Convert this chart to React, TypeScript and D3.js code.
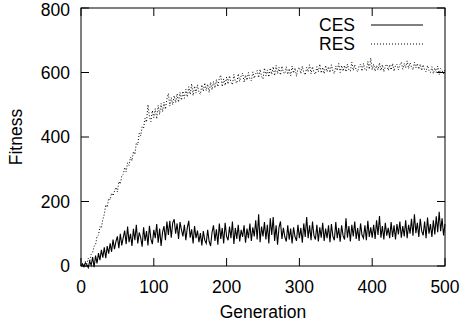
import React from "react";
import * as d3 from "d3";

const xTicks = [0, 100, 200, 300, 400, 500];
const yTicks = [0, 200, 400, 600, 800];
const seriesNames = ["CES", "RES"];
const genStep = 2;

const cesValues = [
  0, 6, -2, 10, 4, -5, 15, 2, 28, -4, 32,
  8, 40, 18, 50, 26, 58, 24, 62, 38, 70,
  44, 82, 52, 76, 92, 55, 100, 64, 88, 110,
  68, 122, 74, 100, 62, 115, 80, 128, 70, 104,
  88, 60, 120, 78, 108, 64, 125, 84, 68, 112,
  86, 130, 72, 116, 62, 104, 124, 80, 138, 96,
  140, 88, 134, 145, 100, 132, 84, 136, 112, 92,
  128, 80, 118, 140, 88, 114, 70, 124, 86, 110,
  74, 102, 64, 108, 80, 70, 112, 76, 62, 104,
  126, 78, 114, 66, 132, 84, 118, 70, 134, 92,
  80, 122, 86, 138, 68, 118, 84, 128, 76, 112,
  90, 126, 72, 116, 86, 132, 78, 120, 92, 142,
  82, 160, 74, 122, 92, 136, 82, 128, 70, 148,
  96, 152, 78, 126, 66, 120, 138, 84, 118, 90,
  76, 126, 82, 116, 70, 120, 90, 78, 128, 86,
  118, 72, 132, 90, 152, 86, 126, 80, 138, 94,
  82, 128, 76, 120, 88, 134, 78, 116, 86, 126,
  74, 130, 92, 80, 136, 86, 118, 75, 126, 94,
  82, 148, 88, 124, 76, 128, 92, 138, 84, 118,
  78, 132, 96, 86, 126, 80, 140, 90, 120, 88,
  128, 84, 142, 96, 155, 88, 124, 82, 134, 94,
  118, 86, 136, 90, 126, 82, 130, 98, 138, 88,
  124, 92, 142, 86, 128, 100, 146, 94, 160, 102,
  134, 90, 146, 108, 95, 138, 86, 150, 100, 130,
  90, 142, 98, 154, 105, 168, 108, 148, 95, 130,
];

const resValues = [
  0, 8, 2, 14, 6, 24, 12, 36, 42, 62, 66,
  92, 96, 122, 118, 145, 160, 190, 182, 210, 205,
  226, 218, 232, 244, 230, 262, 254, 280, 284, 306,
  292, 320, 312, 338, 326, 355, 346, 382, 376, 412,
  404, 432, 428, 458, 446, 500, 462, 448, 482, 460,
  488, 456, 498, 470, 504, 478, 508, 486, 518, 535,
  496, 522, 500, 528, 506, 534, 508, 538, 514, 542,
  520, 548, 524, 556, 532, 565, 528, 558, 536, 562,
  538, 532, 562, 542, 568, 544, 564, 538, 570, 546,
  572, 552, 578, 556, 582, 592, 556, 580, 560, 586,
  564, 590, 570, 562, 594, 572, 566, 596, 572, 590,
  598, 570, 592, 576, 600, 580, 574, 602, 582, 596,
  606, 584, 610, 588, 580, 614, 590, 608, 586, 614,
  594, 618, 590, 622, 596, 616, 592, 620, 600, 596,
  618, 594, 612, 590, 620, 598, 614, 588, 612, 616,
  596, 620, 600, 592, 616, 602, 624, 596, 618, 600,
  594, 618, 602, 626, 598, 616, 596, 622, 602, 618,
  600, 624, 604, 596, 620, 606, 628, 600, 622, 604,
  622, 602, 626, 608, 604, 632, 606, 624, 608, 602,
  620, 626, 604, 628, 610, 606, 634, 610, 645, 608,
  626, 604, 622, 608, 630, 606, 624, 602, 620, 626,
  606, 624, 608, 628, 604, 622, 626, 608, 624, 632,
  610, 628, 614, 636, 612, 630, 616, 608, 632, 614,
  628, 610, 626, 606, 624, 608, 602, 622, 606, 600,
  618, 596, 614, 600, 620, 594, 612, 606, 596, 608,
];

const W = 461;
const H = 331;
const left = 81;
const right = 445;
const top = 8;
const bottom = 266;
const tickLen = 8;
const font = "'Liberation Sans', Arial, Helvetica, sans-serif";
const fs = 17.5;

export default function App() {
  const x = d3.scaleLinear().domain([0, 500]).range([left, right]);
  const y = d3.scaleLinear().domain([0, 800]).range([bottom, top]);
  const line = d3
    .line<number>()
    .x((_, i) => x(i * genStep))
    .y((d) => y(d));

  const legendY = [25, 44];

  return (
    <svg
      width={W}
      height={H}
      style={{ position: "absolute", left: 0, top: 0, background: "#fff" }}
      fontFamily={font}
    >
      <rect x={0} y={0} width={W} height={H} fill="#fff" />
      <path d={line(cesValues) || ""} fill="none" stroke="#000" strokeWidth={1.1} />
      <path
        d={line(resValues) || ""}
        fill="none"
        stroke="#000"
        strokeWidth={1}
        strokeDasharray="1,2"
      />
      <rect
        x={left}
        y={top}
        width={right - left}
        height={bottom - top}
        fill="none"
        stroke="#000"
        strokeWidth={1}
      />
      {xTicks.map((t) => (
        <g key={"x" + t}>
          <line x1={x(t)} x2={x(t)} y1={bottom} y2={bottom - tickLen} stroke="#000" />
          <line x1={x(t)} x2={x(t)} y1={top} y2={top + tickLen} stroke="#000" />
          <text x={x(t)} y={292.5} textAnchor="middle" fontSize={fs} fill="#000">
            {t}
          </text>
        </g>
      ))}
      {yTicks.map((t) => (
        <g key={"y" + t}>
          <line x1={left} x2={left + tickLen} y1={y(t)} y2={y(t)} stroke="#000" />
          <line x1={right} x2={right - tickLen} y1={y(t)} y2={y(t)} stroke="#000" />
          <text
            x={70}
            y={Math.max(y(t) + 6.3, 16)}
            textAnchor="end"
            fontSize={fs}
            fill="#000"
          >
            {t}
          </text>
        </g>
      ))}
      <text x={(left + right) / 2} y={318} textAnchor="middle" fontSize={fs} fill="#000">
        Generation
      </text>
      <text
        transform={`translate(22, ${(top + bottom) / 2}) rotate(-90)`}
        textAnchor="middle"
        fontSize={fs}
        fill="#000"
      >
        Fitness
      </text>
      {seriesNames.map((name, i) => (
        <g key={name}>
          <text
            x={355}
            y={legendY[i]}
            dy="0.36em"
            textAnchor="end"
            fontSize={fs}
            fill="#000"
          >
            {name}
          </text>
          <line
            x1={371}
            x2={423}
            y1={legendY[i]}
            y2={legendY[i]}
            stroke="#000"
            strokeWidth={1}
            strokeDasharray={i === 1 ? "1,2" : undefined}
          />
        </g>
      ))}
    </svg>
  );
}
